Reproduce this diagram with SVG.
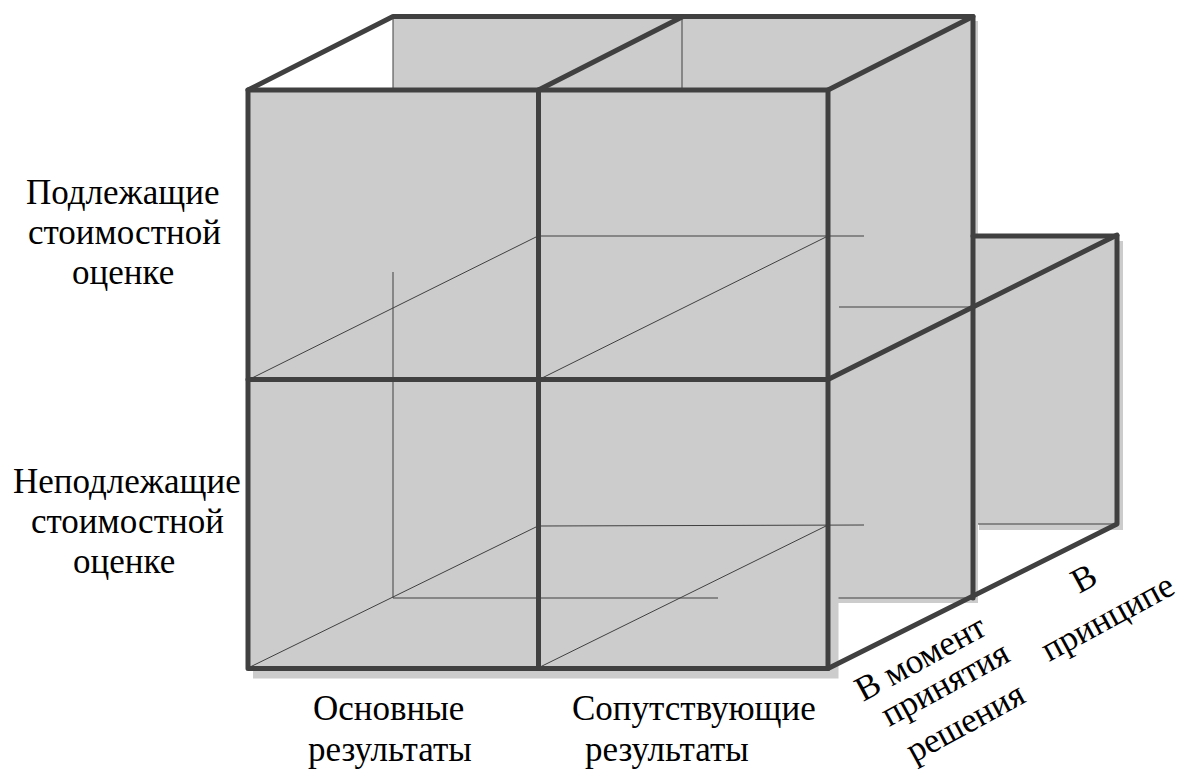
<svg xmlns="http://www.w3.org/2000/svg" width="1178" height="776" viewBox="0 0 1178 776">
  <style>
    .face { fill: #cccccc; }
    .thin { stroke: #404040; stroke-width: 1; fill: none; }
    .thick { stroke: #404040; stroke-width: 5; fill: none; stroke-linejoin: round; stroke-linecap: round; }
  </style>

  <!-- far wall (depth 2), only its right part shows -->
  <g id="far-wall">
    <rect class="face" x="979" y="241" width="144" height="289"/>
    <rect class="face" x="973" y="235" width="144" height="289"/>
    <line class="thin" x1="973" y1="524" x2="1117" y2="524"/>
  </g>

  <!-- middle wall (depth 1) -->
  <g id="middle-wall">
    <rect class="face" x="398" y="21" width="580" height="582"/>
    <rect class="thin" x="393" y="16" width="580" height="582" style="fill:#cccccc"/>
    <line class="thin" x1="839" y1="307" x2="973" y2="307"/>
  </g>

  <!-- front face with its 2x2 cells -->
  <g id="front-face">
    <rect class="face" x="253" y="95" width="585.5" height="583.5"/>
    <rect class="face" x="248" y="90" width="580" height="578.5"/>
  </g>

  <!-- hidden edges seen through the front -->
  <g id="hidden-edges">
    <line class="thin" x1="393" y1="272" x2="393" y2="598"/>
    <line class="thin" x1="393" y1="598" x2="718" y2="598"/>
    <line class="thin" x1="538" y1="236" x2="864" y2="236"/>
    <line class="thin" x1="538" y1="526" x2="864" y2="525"/>
    <line class="thin" x1="248" y1="380" x2="538" y2="236"/>
    <line class="thin" x1="538" y1="380" x2="828" y2="236"/>
    <line class="thin" x1="248" y1="668" x2="538" y2="526"/>
    <line class="thin" x1="538" y1="668" x2="828" y2="525"/>
    <line class="thin" x1="682" y1="16" x2="682" y2="90"/>
  </g>

  <!-- outline edges -->
  <g id="connectors">
    <rect class="thick" x="248" y="90" width="580" height="578.5"/>
    <line class="thick" x1="538.5" y1="90" x2="538.5" y2="668.5"/>
    <line class="thick" x1="248" y1="379.5" x2="828" y2="379.5"/>
    <polyline class="thick" points="248,90 393,16.5 973,16.5 828,90"/>
    <line class="thick" x1="538.5" y1="90" x2="683" y2="16.5"/>
    <line class="thick" x1="973" y1="16.5" x2="973" y2="598"/>
    <line class="thick" x1="828" y1="379.5" x2="1117" y2="235"/>
    <polyline class="thick" points="973,236 1117,236 1117,524 828,668.5"/>
  </g>

  <!-- labels, left-aligned at their measured starts -->
  <g font-family="Liberation Serif" font-size="35" fill="#000000">
    <g id="row-valued">
      <text x="26" y="204">Подлежащие</text>
      <text x="28" y="244">стоимостной</text>
      <text x="72" y="284">оценке</text>
    </g>
    <g id="row-unvalued">
      <text x="13" y="493">Неподлежащие</text>
      <text x="31" y="533">стоимостной</text>
      <text x="73" y="573">оценке</text>
    </g>

    <g id="col-main">
      <text x="313" y="720">Основные</text>
      <text x="308" y="761">результаты</text>
    </g>
    <g id="col-side">
      <text x="572" y="720">Сопутствующие</text>
      <text x="585" y="761">результаты</text>
    </g>

    <!-- depth labels, along the slanted base -->
    <g id="depth-now">
      <text x="863" y="702" transform="rotate(-28.5 863 702)">В момент</text>
      <text x="889" y="727" transform="rotate(-28.5 889 727)">принятия</text>
      <text x="914" y="763" transform="rotate(-28.5 914 763)">решения</text>
    </g>
    <g id="depth-general">
      <text x="1079" y="594" transform="rotate(-28.5 1079 594)">В</text>
      <text x="1049" y="662" transform="rotate(-28.5 1049 662)">принципе</text>
    </g>
  </g>
</svg>
